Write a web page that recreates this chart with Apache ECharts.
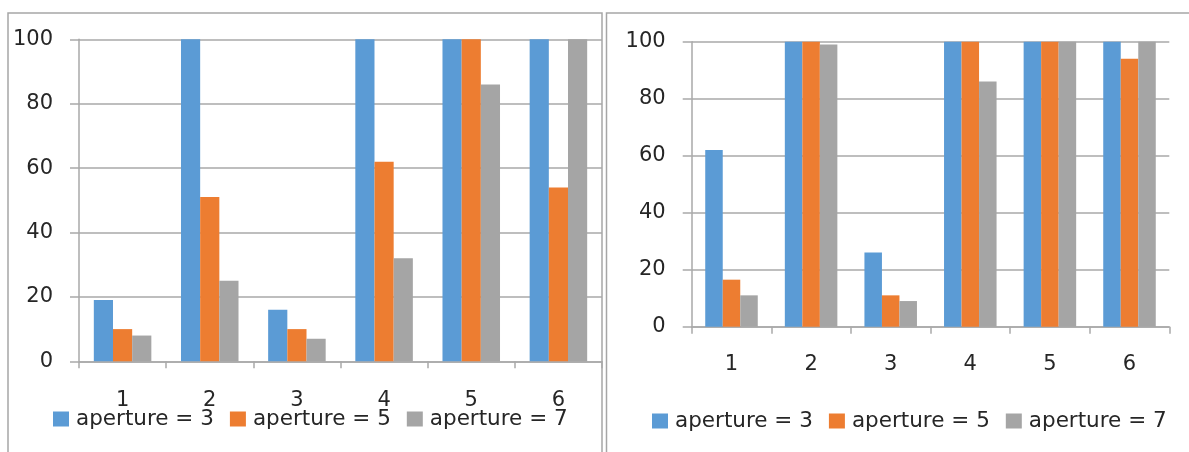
<!DOCTYPE html>
<html>
<head>
<meta charset="utf-8">
<script src="https://cdn.jsdelivr.net/npm/echarts@6/dist/echarts.min.js"></script>
<style>
html,body{margin:0;padding:0;background:#fff;}
#c{width:1189px;height:452px;}
</style>
</head>
<body>
<div id="c"></div>
<script>
const categories = ['1', '2', '3', '4', '5', '6'];
const seriesNames = ['aperture = 3', 'aperture = 5', 'aperture = 7'];
const leftAp3 = [19, 100, 16, 100, 100, 100];
const leftAp5 = [10, 51, 10, 62, 100, 54];
const leftAp7 = [8, 25, 7, 32, 86, 100];
const rightAp3 = [62, 100, 26, 100, 100, 100];
const rightAp5 = [16.5, 100, 11, 100, 100, 94];
const rightAp7 = [11, 99, 9, 86, 100, 100];
const yMin = 0, yMax = 100, yStep = 20;

const colors = ['#5B9BD5', '#ED7D31', '#A5A5A5'];
const lineCol = '#a9a9a9';
const textCol = '#262626';
const font = 'DejaVu Sans';

const chart = echarts.init(document.getElementById('c'), null, {renderer: 'canvas'});

function xAx(gridIndex, margin) {
  return {
    type: 'category', gridIndex, data: categories,
    axisLine: {lineStyle: {color: lineCol, width: 1.5}},
    axisTick: {show: true, length: 7, lineStyle: {color: lineCol, width: 1.5}},
    axisLabel: {color: textCol, fontFamily: font, fontSize: 21, margin},
    splitLine: {show: false}
  };
}
function yAx(gridIndex) {
  return {
    type: 'value', gridIndex, min: yMin, max: yMax, interval: yStep,
    axisLine: {show: true, lineStyle: {color: lineCol, width: 1.5}},
    axisTick: {show: true, length: 9, lineStyle: {color: lineCol, width: 1.5}},
    axisLabel: {color: textCol, fontFamily: font, fontSize: 21, margin: 26},
    splitLine: {show: true, lineStyle: {color: lineCol, width: 1.5}}
  };
}
function bar(name, data, idx, color) {
  return {
    type: 'bar', name, data, xAxisIndex: idx, yAxisIndex: idx,
    barGap: '0%', barCategoryGap: '34%',
    itemStyle: {color}, animation: false
  };
}
const legendCommon = {
  orient: 'horizontal', itemWidth: 16, itemHeight: 15, itemGap: 16, icon: 'rect', padding: 0,
  textStyle: {color: textCol, fontFamily: font, fontSize: 21.5, padding: [0, 0, 0, 2]},
  data: seriesNames
};

chart.setOption({
  animation: false,
  backgroundColor: '#fff',
  grid: [
    {left: 79, top: 39.3, width: 523, height: 322},
    {left: 691.7, top: 41.7, width: 477.6, height: 285}
  ],
  xAxis: [xAx(0, 29), xAx(1, 27)],
  yAxis: [yAx(0), yAx(1)],
  legend: [
    Object.assign({left: 53, top: 408}, legendCommon),
    Object.assign({left: 652, top: 410}, legendCommon)
  ],
  series: [
    bar(seriesNames[0], leftAp3, 0, colors[0]),
    bar(seriesNames[1], leftAp5, 0, colors[1]),
    bar(seriesNames[2], leftAp7, 0, colors[2]),
    bar(seriesNames[0], rightAp3, 1, colors[0]),
    bar(seriesNames[1], rightAp5, 1, colors[1]),
    bar(seriesNames[2], rightAp7, 1, colors[2])
  ],
  graphic: [
    {type: 'rect', shape: {x: 8, y: 13, width: 594, height: 480}, style: {fill: 'none', stroke: '#a6a6a6', lineWidth: 1.5}, silent: true},
    {type: 'rect', shape: {x: 606.5, y: 13, width: 620, height: 480}, style: {fill: 'none', stroke: '#a6a6a6', lineWidth: 1.5}, silent: true}
  ]
});
</script>
</body>
</html>
